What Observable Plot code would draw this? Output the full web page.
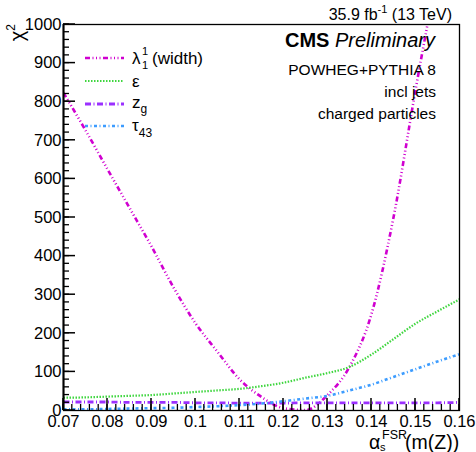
<!DOCTYPE html>
<html><head><meta charset="utf-8">
<script src="https://cdn.jsdelivr.net/npm/d3@7"></script>
<script src="https://cdn.jsdelivr.net/npm/@observablehq/plot@0.6"></script>
<style>body{margin:0;background:#fff}</style>
</head><body><div id="chart"></div>
<script>
// ---- data ----
const alphaS      = [0.070,0.075,0.080,0.085,0.090,0.095,0.100,0.105,0.110,0.115,0.120,0.125,0.130,0.135,0.140,0.145,0.150,0.155,0.160];
const chi2Lambda  = [823,726,625,525,425,319,226,152,81,35,6,1,40,113,250,500,830,1140,1450];
const chi2Eps     = [33,34,36,38,40,44,48,52,56,63,72,85,97,113,145,185,225,257,288];
const chi2Zg      = [22,22,22,21,21,21,20,20,19,19,19,20,20,20,20,20,20,20,21];
const chi2Tau43   = [3,3,4,5,6,7,9,11,14,18,24,31,38,52,67,87,107,127,146];
const seriesNames = ["lambda","eps","zg","tau43"];
const xMajorTicks = [0.07,0.08,0.09,0.10,0.11,0.12,0.13,0.14,0.15,0.16];
const yMajorTicks = [0,100,200,300,400,500,600,700,800,900,1000];
const xMinorTicks = d3.range(0,46).map(i => 0.07 + i*0.002);
const yMinorTicks = d3.range(0,51).map(i => i*20);

const seriesValues = {lambda: chi2Lambda, eps: chi2Eps, zg: chi2Zg, tau43: chi2Tau43};
const styles = {
  lambda: {stroke:"#d000d0", strokeWidth:2.6, dash:"5,2.5,1,2.5,1,2.5,1,2.5"},
  eps:    {stroke:"#3fd63f", strokeWidth:2.2, dash:"1.5,1.5"},
  zg:     {stroke:"#9b30ff", strokeWidth:2.8, dash:"6,2.5,1,2.5"},
  tau43:  {stroke:"#3c9cff", strokeWidth:2.6, dash:"3,2.5,1,2.5"}
};
const rows = s => alphaS.map((a,i) => ({a, v: seriesValues[s][i]}));

const font = "'Liberation Sans', Arial, Helvetica, sans-serif";
const fmt = d => String(+d.toFixed(2));

const W = 476, H = 452, mL = 63, mR = 17, mT = 24, mB = 42;
const xDom = [0.07, 0.16], yDom = [0, 1000];

const plot = Plot.plot({
  width: W, height: H,
  marginLeft: mL, marginRight: mR, marginTop: mT, marginBottom: mB,
  style: {fontFamily: font, fontSize: "16.5px", color: "#000", background: "#fff"},
  x: {domain: xDom},
  y: {domain: yDom},
  marks: [
    ...seriesNames.map(s => Plot.line(rows(s), {
      x: "a", y: "v", curve: "monotone-x", clip: true,
      stroke: styles[s].stroke, strokeWidth: styles[s].strokeWidth,
      strokeDasharray: styles[s].dash, strokeLinecap: "butt", strokeLinejoin: "miter"
    })),
    Plot.frame({stroke: "#000", strokeWidth: 1.3}),
    Plot.axisX({ticks: xMajorTicks, tickSize: 0, tickPadding: 5, tickFormat: fmt, label: null}),
    Plot.axisY({ticks: yMajorTicks, tickSize: 0, tickPadding: 2, tickFormat: d => String(d), label: null}),
    Plot.ruleX([xDom[0]], {stroke: "#000", strokeWidth: 2})
  ]
});
document.getElementById("chart").appendChild(plot);

const svg = d3.select(plot);
const sx = plot.scale("x"), sy = plot.scale("y");

// inward ROOT-style ticks, positioned through Plot's own scales
const tickG = svg.append("g").attr("stroke", "#000");
const x0 = sx.apply(xDom[0]), y0 = sy.apply(yDom[0]);
for (const [ticks, len, w] of [[xMinorTicks, 6, 1.3], [xMajorTicks, 12, 1.5]]) {
  for (const t of ticks) {
    const px = sx.apply(t);
    tickG.append("line").attr("x1", px).attr("x2", px).attr("y1", y0).attr("y2", y0 - len).attr("stroke-width", w);
  }
}
for (const [ticks, len, w] of [[yMinorTicks, 6, 1.3], [yMajorTicks, 12, 1.5]]) {
  for (const t of ticks) {
    const py = sy.apply(t);
    tickG.append("line").attr("x1", x0).attr("x2", x0 + len).attr("y1", py).attr("y2", py).attr("stroke-width", w);
  }
}

function rich(x, y, parts, {size = 17, anchor = "start", rotate = 0} = {}) {
  const t = svg.append("text")
    .attr("x", x).attr("y", y)
    .attr("font-family", font).attr("font-size", size)
    .attr("text-anchor", anchor).attr("fill", "#000");
  if (rotate) t.attr("transform", `rotate(${rotate},${x},${y})`);
  for (const p of parts) {
    const s = t.append("tspan").text(p.t);
    if (p.dy) s.attr("dy", p.dy);
    if (p.dx) s.attr("dx", p.dx);
    if (p.size) s.attr("font-size", p.size);
    if (p.weight) s.attr("font-weight", p.weight);
    if (p.style) s.attr("font-style", p.style);
  }
  return t;
}

// header texts
rich(452, 20, [{t: "35.9 fb"}, {t: "-1", size: 11, dy: -7}, {t: " (13 TeV)", dy: 7}], {size: 16, anchor: "end"});
rich(435, 47, [{t: "CMS", weight: "bold"}, {t: " "}, {t: "Preliminary", style: "italic"}], {size: 20, anchor: "end"});
rich(436, 75, [{t: "POWHEG+PYTHIA 8"}], {size: 15.5, anchor: "end"});
rich(436, 97, [{t: "incl jets"}], {size: 15.5, anchor: "end"});
rich(436, 119, [{t: "charged particles"}], {size: 15.5, anchor: "end"});

// legend
const legendY = {lambda: 58, eps: 81, zg: 104, tau43: 126};
for (const s of seriesNames) {
  svg.append("line").attr("x1", 85).attr("x2", 124)
    .attr("y1", legendY[s]).attr("y2", legendY[s])
    .attr("stroke", styles[s].stroke).attr("stroke-width", styles[s].strokeWidth)
    .attr("stroke-dasharray", styles[s].dash);
}
rich(132, 64, [{t: "λ"}], {size: 17});
rich(142, 55, [{t: "1"}], {size: 11});
rich(142, 69, [{t: "1"}], {size: 11});
rich(152, 64, [{t: "(width)"}], {size: 17});
rich(132, 87, [{t: "ε"}], {size: 17});
rich(132, 108, [{t: "z"}, {t: "g", size: 12, dy: 5}], {size: 17});
rich(132, 131, [{t: "τ"}, {t: "43", size: 12, dy: 6}], {size: 17});

// axis titles
rich(24, 24, [{t: "χ"}, {t: "2", size: 12, dy: -9}], {size: 20, anchor: "end", rotate: -90});
rich(369, 449, [{t: "α"}], {size: 19.5});
rich(380, 451, [{t: "s"}], {size: 11});
rich(382, 439, [{t: "FSR"}], {size: 12.5});
rich(405, 449, [{t: "(m(Z))"}], {size: 19.5});
</script>
</body></html>
